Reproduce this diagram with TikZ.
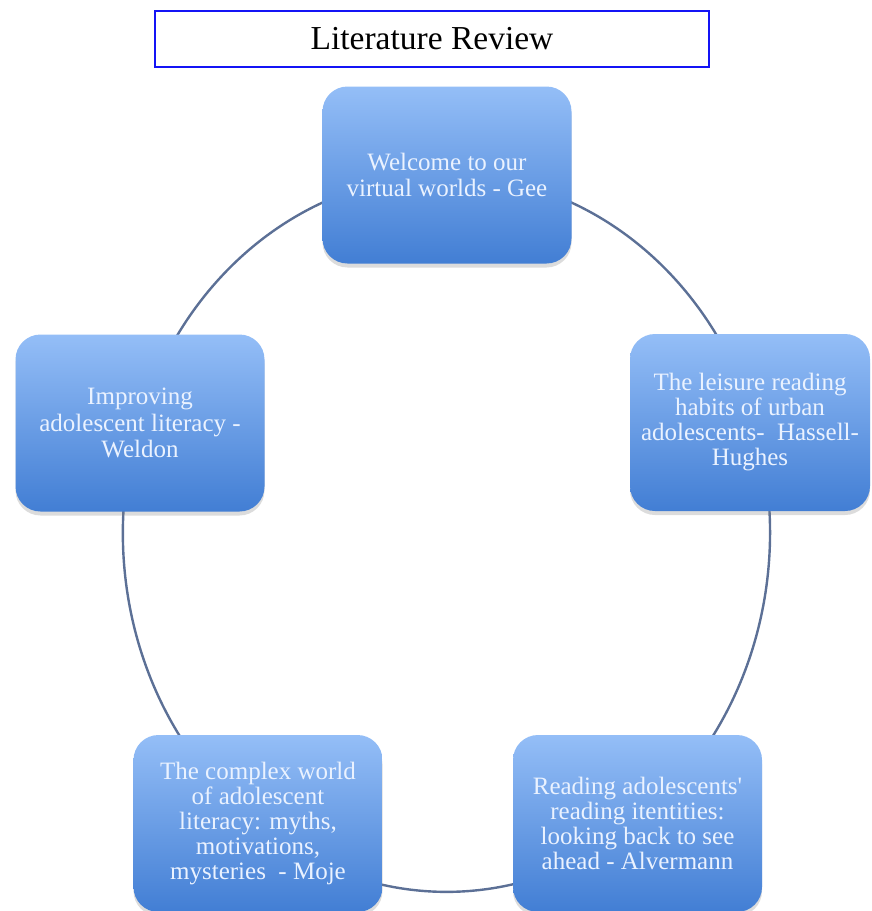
\documentclass[tikz,border=0pt]{standalone}
\usepackage{fontspec}
\setmainfont{Liberation Serif}
\usetikzlibrary{shadows,backgrounds}
\definecolor{boxtop}{RGB}{148,190,247}
\definecolor{boxbot}{RGB}{66,126,212}
\definecolor{boxtext}{RGB}{234,242,255}
\definecolor{connc}{RGB}{92,112,150}
\definecolor{titleblue}{RGB}{20,20,245}
\tikzset{
  cyclebox/.style={rounded corners=25pt, top color=boxtop, bottom color=boxbot,
    draw=none, minimum width=249pt, minimum height=177pt, inner sep=4pt,
    align=center, text=boxtext,
    drop shadow={opacity=0.28, shadow xshift=0pt, shadow yshift=-4pt},
    font=\fontsize{25}{26.5}\selectfont},
  tightbox/.style={cyclebox, font=\fontsize{25}{25}\selectfont},
  conn/.style={draw=connc, line width=2.4pt},
  titlebox/.style={draw=titleblue, line width=1.6pt, minimum width=554pt,
    minimum height=56pt, inner sep=0pt, font=\fontsize{33.5}{35}\selectfont}
}
\begin{document}
\begin{tikzpicture}[x=1pt,y=-1pt]
\useasboundingbox (0,0) rectangle (871,911);
\node[titlebox] (title) at (432,39) {\raisebox{-3pt}{Literature Review}};
\node[cyclebox] (gee) at (447,175) {Welcome to our\\virtual worlds - Gee};
\node[tightbox, minimum width=240pt] (hassell) at (750,422.5) {The leisure reading\\habits of urban\\adolescents-\ \ Hassell-\\Hughes};
\node[tightbox] (alvermann) at (637.5,823.5) {Reading adolescents\textquotesingle\\reading itentities:\\looking back to see\\ahead - Alvermann};
\node[tightbox] (moje) at (258,823.5) {The complex world\\of adolescent\\literacy: myths,\\motivations,\\mysteries\ \ - Moje};
\node[cyclebox] (weldon) at (140,423) {Improving\\adolescent literacy -\\Weldon};
\begin{pgfonlayer}{background}
\draw[conn] (gee.center) arc[start angle=90, end angle=18, x radius=323.5pt, y radius=358pt];
\draw[conn] (gee.center) arc[start angle=90, end angle=162, x radius=323.5pt, y radius=358pt];
\draw[conn] (weldon.center) ++(-1.3,-0.4) arc[start angle=162, end angle=234, x radius=323.5pt, y radius=358pt];
\draw[conn] (hassell.center) ++(4.2,-0.4) arc[start angle=18, end angle=-54, x radius=323.5pt, y radius=358pt];
\draw[conn] (moje.center) ++(-1.6,0) arc[start angle=234, end angle=306, x radius=323.5pt, y radius=358pt];
\end{pgfonlayer}
\end{tikzpicture}
\end{document}
